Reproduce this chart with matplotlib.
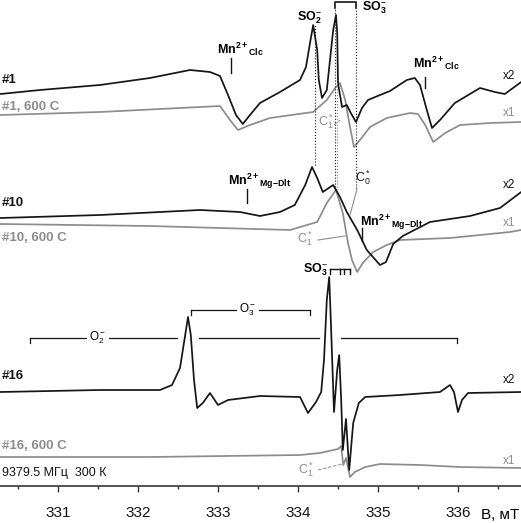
import numpy as np
import matplotlib
matplotlib.use("Agg")
import matplotlib.pyplot as plt

plt.rcParams['font.family'] = ['Liberation Sans', 'DejaVu Sans']
plt.rcParams['mathtext.fontset'] = 'custom'
plt.rcParams['mathtext.rm'] = 'Liberation Sans'
plt.rcParams['mathtext.bf'] = 'Liberation Sans:bold'
plt.rcParams['mathtext.it'] = 'Liberation Sans:italic'

BLACK = '#151515'
GRAY = '#8c8c8c'

# field (mT) and stacked intensity (a.u.)
b_1 = [330.28, 330.775, 331.525, 332.15, 332.65, 332.90, 333.025, 333.125, 333.225, 333.31,
       333.40, 333.525, 333.775, 334.025, 334.10, 334.15, 334.19, 334.24, 334.26, 334.30,
       334.36, 334.40, 334.44, 334.475, 334.49, 334.50, 334.55, 334.61, 334.66, 334.725,
       334.80, 334.875, 335.025, 335.15, 335.36, 335.46, 335.525, 335.61, 335.675, 335.775,
       335.96, 336.275, 336.46, 336.585, 336.79]
y_1 = [392, 396, 401, 408, 416, 414, 410, 391, 371, 362,
       371, 383, 394, 406, 419, 443, 461, 436, 406, 388,
       396, 426, 456, 471, 453, 403, 379, 381, 373, 364,
       378, 386, 391, 395, 406, 408, 401, 376, 358, 366,
       383, 398, 394, 392, 404]

b_1h = [330.28, 331.525, 332.775, 333.025, 333.15, 333.25, 333.40, 333.65, 334.19, 334.36,
        334.465, 334.525, 334.59, 334.65, 334.70, 334.775, 334.90, 335.11, 335.40, 335.50,
        335.59, 335.69, 335.84, 336.025, 336.40, 336.79]
y_1h = [371, 374, 379, 380, 366, 356, 361, 368, 374, 386,
        398, 403, 386, 359, 339, 346, 359, 368, 373, 372,
        361, 344, 353, 361, 363, 364]

b_10 = [330.28, 331.525, 332.775, 333.275, 333.525, 333.775, 333.96, 334.09, 334.175, 334.24,
        334.31, 334.44, 334.525, 334.61, 334.74, 334.86, 335.025, 335.10, 335.19, 335.31,
        335.65, 336.15, 336.525, 336.79]
y_10 = [268, 271, 276, 274, 270, 274, 281, 301, 319, 308,
        294, 301, 289, 274, 256, 236, 221, 224, 242, 250,
        264, 270, 278, 294]

b_10h = [330.28, 332.15, 333.90, 334.24, 334.36, 334.475, 334.56, 334.625, 334.675, 334.74,
         334.81, 334.94, 335.11, 335.275, 335.90, 336.65, 336.79]
y_10h = [262, 260, 256, 264, 283, 296, 273, 243, 226, 214,
         223, 234, 241, 246, 248, 254, 256]

b_16 = [330.28, 331.525, 332.275, 332.425, 332.525, 332.59, 332.625, 332.66, 332.70, 332.74,
        332.81, 332.90, 333.0, 333.125, 333.525, 334.025, 334.125, 334.225, 334.29, 334.325,
        334.36, 334.39, 334.41, 334.45, 334.49, 334.515, 334.54, 334.56, 334.60, 334.64,
        334.69, 334.725, 334.76, 334.84, 335.275, 335.775, 335.90, 335.95, 336.0, 336.05,
        336.125, 336.79]
y_16 = [94, 96, 96, 101, 118, 151, 169, 151, 106, 78,
        83, 93, 81, 86, 90, 89, 73, 84, 94, 126,
        186, 209, 166, 74, 116, 131, 86, 36, 67, 16,
        63, 73, 83, 89, 91, 94, 101, 94, 74, 86,
        93, 94]

b_16h = [330.28, 332.15, 334.025, 334.275, 334.50, 334.54, 334.565, 334.60, 334.65, 334.71,
         334.84, 335.025, 335.525, 336.025, 336.79]
y_16h = [29, 29, 31, 33, 37, 40, 21, 28, 9, 14,
         19, 22, 21, 19, 18]

fig = plt.figure(figsize=(5.21, 5.23), dpi=100)
ax = fig.add_axes([0, 37 / 523, 1, 486 / 523])
ax.set_xlim(330.275, 336.7875)
ax.set_ylim(0, 486)

for b, y, c in [(b_1h, y_1h, GRAY), (b_10h, y_10h, GRAY), (b_16h, y_16h, GRAY),
                (b_1, y_1, BLACK), (b_10, y_10, BLACK), (b_16, y_16, BLACK)]:
    ax.plot(b, y, color=c, lw=1.25, solid_joinstyle='round')

# dotted guide lines
for x, y0, y1, c in [(334.2125, 321, 462, BLACK), (334.4625, 296, 478, BLACK),
                     (334.4875, 296, 403, GRAY), (334.725, 298, 478, BLACK)]:
    ax.plot([x, x], [y0, y1], ls=':', lw=0.8, color=c)
ax.plot([334.4625, 334.4625, 334.725, 334.725], [478, 484, 484, 478], color=BLACK, lw=1.2)

# Mn markers
for x, y0, y1 in [(333.1625, 413, 428), (335.5875, 398, 409),
                  (333.3625, 283, 297), (334.80, 245, 258)]:
    ax.plot([x, x], [y0, y1], color=BLACK, lw=1.0)

mn_clc = r'$\mathbf{Mn}^{\mathbf{2+}}{}_{\mathbf{Clc}}$'
mn_dlt = r'$\mathbf{Mn}^{\mathbf{2+}}{}_{\mathbf{Mg{-}Dlt}}$'
ax.text(332.9875, 432, mn_clc, fontsize=9, va='baseline')
ax.text(335.4375, 418, mn_clc, fontsize=9, va='baseline')
ax.text(333.125, 301, mn_dlt, fontsize=9, va='baseline')
ax.text(334.775, 260, mn_dlt, fontsize=9, va='baseline')

ax.text(334.1375, 466, r'$\mathbf{SO}_\mathbf{2}^{-}$', fontsize=9, ha='center', va='baseline')
ax.text(334.80, 476, r'$\mathbf{SO}_\mathbf{3}^{-}$', fontsize=9, va='baseline')
ax.text(334.37, 213, r'$\mathbf{SO}_\mathbf{3}^{-}$', fontsize=9, ha='right', va='baseline')

# SO3 bracket of #16
ax.plot([334.40, 334.65], [217, 217], color=BLACK, lw=1.0)
for x in [334.40, 334.525, 334.575, 334.65]:
    ax.plot([x, x], [217, 212], color=BLACK, lw=1.0)

# C labels
ax.text(334.25, 364, r'C$_1^*$', fontsize=9, color=GRAY, va='center')
ax.plot([334.45, 334.525], [361, 366], ls='--', lw=0.7, color=GRAY)
ax.text(334.7125, 308, r'C$_0^*$', fontsize=9, color=BLACK, va='center')
ax.plot([334.7375, 334.65], [297, 271], lw=0.8, color=GRAY)
ax.text(333.99, 247, r'C$_1^*$', fontsize=9, color=GRAY, va='center')
ax.plot([334.25, 334.5875], [246, 250], lw=0.8, color=GRAY)
ax.text(334.0, 16, r'C$_1^*$', fontsize=9, color=GRAY, va='center')
ax.plot([334.25, 334.55], [16, 22], ls='--', lw=0.7, color=GRAY)

# O2 and O3 brackets
for x0, x1 in [(330.65, 332.4875), (332.7625, 334.2625), (334.5375, 335.9875)]:
    ax.plot([x0, x1], [148, 148], color=BLACK, lw=0.9)
ax.plot([330.65, 330.65], [148, 143], color=BLACK, lw=0.9)
ax.plot([335.9875, 335.9875], [148, 143], color=BLACK, lw=0.9)
ax.text(331.5, 148, r'O$_2^-$', fontsize=8.5, ha='center', va='center',
        bbox=dict(facecolor='white', edgecolor='none', pad=1.5))
ax.plot([332.6625, 334.15], [176, 176], color=BLACK, lw=0.9)
ax.plot([332.6625, 332.6625], [176, 171], color=BLACK, lw=0.9)
ax.plot([334.15, 334.15], [176, 171], color=BLACK, lw=0.9)
ax.text(333.375, 176, r'O$_3^-$', fontsize=8.5, ha='center', va='center',
        bbox=dict(facecolor='white', edgecolor='none', pad=1.5))

# sample labels
x_left = 330.30
for y, s, c in [(406, '#1', BLACK), (379, '#1, 600 C', GRAY),
                (283, '#10', BLACK), (248, '#10, 600 C', GRAY),
                (110, '#16', BLACK), (40, '#16, 600 C', GRAY)]:
    ax.text(x_left, y, s, fontsize=9.5, fontweight='bold', color=c, va='center')
ax.text(x_left, 13, '9379.5 МГц  300 К', fontsize=9, color=BLACK, va='center')

for y, s, c in [(410, 'x2', BLACK), (373, 'x1', GRAY), (301, 'x2', BLACK),
                (263, 'x1', GRAY), (106, 'x2', BLACK), (25, 'x1', GRAY)]:
    ax.text(336.72, y, s, fontsize=8.5, color=c, ha='right', va='center')

for side in ['left', 'right', 'top']:
    ax.spines[side].set_visible(False)
ax.spines['bottom'].set_color('#333333')
ax.spines['bottom'].set_linewidth(1.2)
ax.set_yticks([])
ax.set_xticks([331, 332, 333, 334, 335, 336])
ax.set_xticks(np.arange(330.5, 336.6, 1.0), minor=True)
ax.tick_params(axis='x', which='major', direction='out', length=4, width=1,
               pad=10.5, labelsize=11, colors='#333333', labelcolor=BLACK)
ax.tick_params(axis='x', which='minor', direction='out', length=2, width=1, colors='#333333')
fig.text(519 / 521, 1 - 515 / 523, 'B, мТ', fontsize=11, ha='right', va='center')

fig.savefig('out.png', dpi=100)
